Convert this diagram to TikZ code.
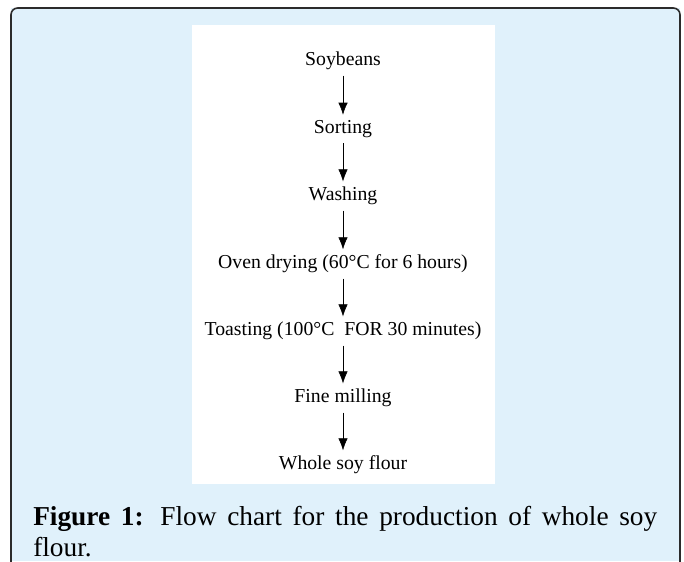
\documentclass[tikz,border=0pt]{standalone}
\usepackage{fontspec}
\setmainfont{Liberation Serif}
\usetikzlibrary{arrows.meta}
\definecolor{panelblue}{HTML}{E0F1FB}
\definecolor{panelline}{HTML}{2B2B2B}
\tikzset{
	stepnode/.style={font=\fontsize{14.8}{17}\selectfont, inner sep=2pt},
	flowarrow/.style={-{Latex[length=9pt,width=7pt]}, thin, shorten <=2pt, shorten >=2pt},
}
\begin{document}
\begin{tikzpicture}[x=0.75pt,y=-0.75pt]
	\useasboundingbox (0,0) rectangle (684,561);
	% panel, open at the bottom
	\fill[panelblue] (11,8) rectangle (680,561);
	\draw[panelline,line width=1.2pt,rounded corners=5pt] (11,570) -- (11,8) -- (680,8) -- (680,570);
	\fill[white] (192,25) rectangle (495,484);
	% steps
	\node[stepnode] (soy) at (343,61) {Soybeans};
	\node[stepnode] (sort) at (343,129) {Sorting};
	\node[stepnode] (wash) at (343,196) {Washing};
	\node[stepnode] (dry) at (343,264) {Oven drying (60°C for 6 hours)};
	\node[stepnode] (toast) at (343,331) {Toasting (100°C\hspace{0.5em}FOR 30 minutes)};
	\node[stepnode] (mill) at (343,398) {Fine milling};
	\node[stepnode] (flour) at (343,465) {Whole soy flour};
	\foreach \a/\b in {soy/sort,sort/wash,wash/dry,dry/toast,toast/mill,mill/flour}
		\draw[flowarrow] (\a) -- (\b);
	% caption
	\node[anchor=north west, inner sep=0pt, text width=468pt, align=justify,
		font=\fontsize{20.5}{23.5}\selectfont] (caption) at (33,506)
		{\textbf{Figure 1:} Flow chart for the production of whole soy\linebreak flour.};
\end{tikzpicture}
\end{document}
